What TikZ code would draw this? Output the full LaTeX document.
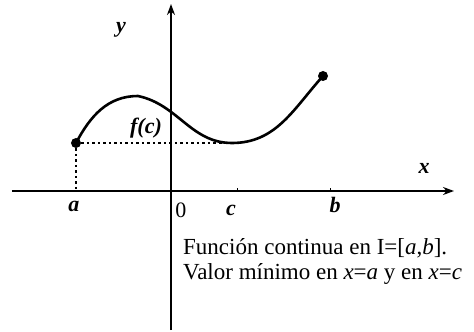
\documentclass[tikz,border=0pt]{standalone}
\usepackage{fontspec}
\setmainfont{Liberation Serif}
\usetikzlibrary{arrows.meta, positioning, calc}
\tikzset{
    axis/.style={line width=2pt, -{Stealth[length=11pt,width=8pt]}},
    curve/.style={line width=2.6pt},
    guide/.style={line width=2.2pt, dash pattern=on 2.5pt off 3pt},
    dot/.style={circle, fill, inner sep=0pt, minimum size=10pt},
    lbl/.style={font=\fontsize{22}{24}\selectfont\bfseries\itshape, inner sep=0pt},
    tick/.style={line width=1pt}
}

\begin{document}
\begin{tikzpicture}[x=1pt, y=1pt]
    \useasboundingbox (-171,-141) rectangle (303,191);
    % axes
    \coordinate (O) at (0,0);
    \coordinate (xl) at (-159,0);
    \coordinate (xr) at (283,0);
    \coordinate (yb) at (0,-139);
    \coordinate (yt) at (0,187);
    \draw [axis] (xl) -- (xr);
    \draw [axis] (yb) -- (yt);

    % the function on [a,b]
    \node (a) [dot] at (-95,48) {};
    \coordinate (top) at (-33,95);
    \coordinate (low) at (61,48);
    \node (b) [dot] at (152,115) {};
    \draw [curve] (a.center) to[out=62,in=180] (top) to[out=-12,in=180] (low) to[out=0,in=228] (b.center);
    \draw [guide] (a.center) -- (low);
    \draw [guide] (a.center) -- (a |- O);

    % small ticks
    \coordinate (ct) at (66,0);
    \coordinate (bt) at (159,0);
    \draw [tick] (ct) -- ++(0,3);
    \draw [tick] (bt) -- ++(0,3);

    % labels
    \node (ylab) [lbl] at (-50,161) {y};
    \node (xlab) [lbl] at (253,23) {x};
    \node (alab) [lbl] at (-97,-15) {a};
    \node (zero) [font=\fontsize{22}{24}\selectfont, inner sep=0pt] at (10,-19) {0};
    \node (clab) [lbl] at (60,-19) {c};
    \node (blab) [lbl] at (164,-14) {b};
    \node (fc) [lbl] at (-25,63) {f(c)};
    \node (note) [anchor=west, align=left, inner sep=0pt, font=\fontsize{23}{25}\selectfont] at (12,-70)
        {Función continua en I=[\textit{a},\textit{b}].\\ Valor mínimo en \textit{x}=\textit{a} y en \textit{x}=\textit{c}};
\end{tikzpicture}
\end{document}
